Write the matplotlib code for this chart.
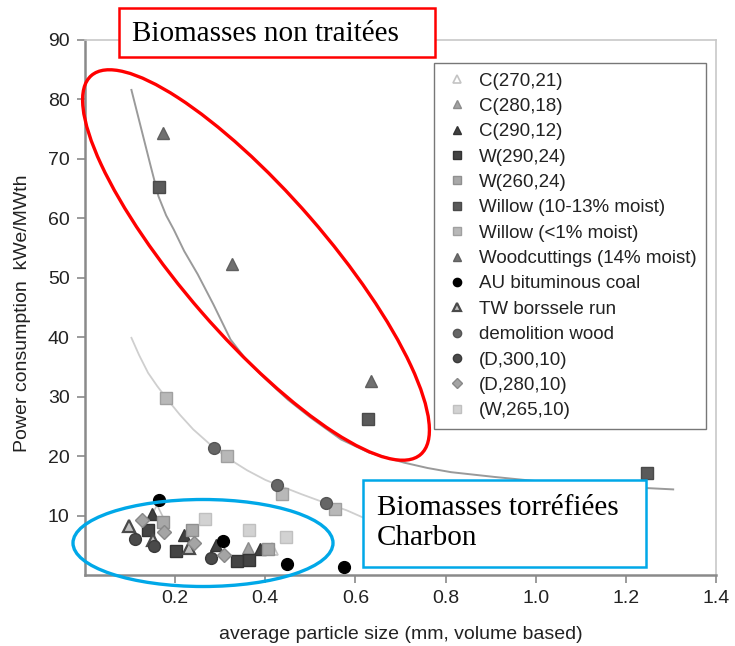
import numpy as np
import matplotlib
matplotlib.use("Agg")
import matplotlib.pyplot as plt
from matplotlib.patches import Ellipse, Rectangle

plt.rcParams['font.family'] = ['Liberation Sans', 'DejaVu Sans']

# ---- data ----
c270_x = [0.160, 0.414]
c270_y = [10.7, 4.4]
c280_x = [0.362]
c280_y = [4.6]
c290_x = [0.149, 0.220, 0.290, 0.388]
c290_y = [10.2, 6.8, 5.1, 4.3]
w290_x = [0.140, 0.201, 0.338, 0.364]
w290_y = [7.6, 4.1, 2.3, 2.6]
w260_x = [0.174, 0.238, 0.405]
w260_y = [9.0, 7.6, 4.3]
willow_wet_x = [0.164, 0.628, 1.246]
willow_wet_y = [65.3, 26.2, 17.1]
willow_dry_x = [0.180, 0.316, 0.436, 0.554]
willow_dry_y = [29.8, 20.0, 13.6, 11.1]
woodcut_x = [0.174, 0.327, 0.634]
woodcut_y = [74.4, 52.3, 32.7]
coal_x = [0.164, 0.306, 0.449, 0.575]
coal_y = [12.7, 5.8, 1.9, 1.4]
tw_x = [0.097, 0.151, 0.231]
tw_y = [8.2, 5.9, 4.6]
demol_x = [0.286, 0.426, 0.534]
demol_y = [21.4, 15.2, 12.1]
d300_x = [0.112, 0.153, 0.279]
d300_y = [6.0, 4.8, 2.9]
d280_x = [0.127, 0.175, 0.242, 0.308]
d280_y = [9.3, 7.2, 5.3, 3.4]
w265_x = [0.266, 0.364, 0.446]
w265_y = [9.5, 7.5, 6.4]

# trend curves
upper_x = [0.103, 0.115, 0.130, 0.145, 0.163, 0.180, 0.197, 0.220, 0.250, 0.285, 0.323,
           0.360, 0.400, 0.450, 0.500, 0.568, 0.630, 0.708, 0.760, 0.812, 0.860, 0.908,
           1.000, 1.100, 1.200, 1.305]
upper_y = [81.6, 78.0, 73.5, 69.0, 63.7, 60.5, 58.1, 54.5, 50.6, 45.5, 39.6,
           36.0, 33.0, 29.5, 26.5, 22.8, 20.6, 18.9, 18.0, 17.3, 16.9, 16.5,
           15.8, 15.2, 14.8, 14.4]
lower_x = [0.103, 0.120, 0.140, 0.160, 0.180, 0.210, 0.240, 0.286, 0.320, 0.360, 0.400,
           0.426, 0.480, 0.534, 0.580, 0.619]
lower_y = [39.9, 37.0, 34.0, 31.8, 29.8, 27.0, 24.5, 21.4, 19.5, 17.6, 16.0,
           15.2, 13.6, 12.1, 10.9, 9.6]

fig = plt.figure(figsize=(7.35, 6.46), dpi=100)
ax = fig.add_axes([85 / 735, 71 / 646, 631 / 735, 535 / 646])

ax.plot(upper_x, upper_y, color='#9a9a9a', lw=1.4, zorder=1)
ax.plot(lower_x, lower_y, color='#cfcfcf', lw=1.3, zorder=1)

ms = 8.5
series = [
    ('C(270,21)', c270_x, c270_y, dict(marker='^', mfc='white', mec='#c4c4c4', mew=1.2)),
    ('C(280,18)', c280_x, c280_y, dict(marker='^', mfc='#a2a2a2', mec='#8c8c8c')),
    ('C(290,12)', c290_x, c290_y, dict(marker='^', mfc='#404040', mec='#333333')),
    ('W(290,24)', w290_x, w290_y, dict(marker='s', mfc='#444444', mec='#333333')),
    ('W(260,24)', w260_x, w260_y, dict(marker='s', mfc='#a8a8a8', mec='#909090')),
    ('Willow (10-13% moist)', willow_wet_x, willow_wet_y, dict(marker='s', mfc='#5a5a5a', mec='#4a4a4a')),
    ('Willow (<1% moist)', willow_dry_x, willow_dry_y, dict(marker='s', mfc='#b8b8b8', mec='#a0a0a0')),
    ('Woodcuttings (14% moist)', woodcut_x, woodcut_y, dict(marker='^', mfc='#707070', mec='#606060')),
    ('AU bituminous coal', coal_x, coal_y, dict(marker='o', mfc='black', mec='black')),
    ('TW borssele run', tw_x, tw_y, dict(marker='^', mfc='#c0c0c0', mec='#4a4a4a', mew=1.6)),
    ('demolition wood', demol_x, demol_y, dict(marker='o', mfc='#666666', mec='#555555')),
    ('(D,300,10)', d300_x, d300_y, dict(marker='o', mfc='#4a4a4a', mec='#3a3a3a')),
    ('(D,280,10)', d280_x, d280_y, dict(marker='D', mfc='#a4a4a4', mec='#888888', ms=7)),
    ('(W,265,10)', w265_x, w265_y, dict(marker='s', mfc='#d2d2d2', mec='#c0c0c0')),
]
for label, xs, ys, st in series:
    kw = dict(ms=ms, mew=1.0)
    kw.update(st)
    ax.plot(xs, ys, ls='none', label=label, zorder=3, **kw)

ax.set_xlim(0, 1.4)
ax.set_ylim(0, 90)
ax.set_xticks([0.2, 0.4, 0.6, 0.8, 1.0, 1.2, 1.4])
ax.set_xticklabels(['0.2', '0.4', '0.6', '0.8', '1.0', '1.2', '1.4'])
ax.set_yticks([10, 20, 30, 40, 50, 60, 70, 80, 90])
for s in ['left', 'bottom']:
    ax.spines[s].set_color('#8a8a8a')
    ax.spines[s].set_linewidth(1.8)
for s in ['top', 'right']:
    ax.spines[s].set_color('#c8c8c8')
    ax.spines[s].set_linewidth(1.2)
ax.tick_params(direction='out', length=6, width=1.2, color='#8a8a8a',
               labelsize=14, labelcolor='#222222', pad=5)
ax.set_xlabel('average particle size (mm, volume based)', fontsize=14, color='#222222')
ax.set_ylabel('Power consumption  kWe/MWth', fontsize=14, color='#222222')
ax.xaxis.set_label_coords(0.5, -0.095)
ax.yaxis.set_label_coords(-0.085, 0.49)

leg = ax.legend(loc='upper left', bbox_to_anchor=(349 / 631, 1 - 23 / 535), fontsize=13.5,
                frameon=True, fancybox=False, handletextpad=0.4, labelspacing=0.44,
                handlelength=1.5, borderpad=0.5, borderaxespad=0, markerscale=0.7)
leg.get_frame().set_edgecolor('#555555')
leg.get_frame().set_linewidth(1.0)
for t in leg.get_texts():
    t.set_color('#222222')

# ---- annotation overlay in pixel space ----
ov = fig.add_axes([0, 0, 1, 1], facecolor='none')
ov.set_xlim(0, 735)
ov.set_ylim(646, 0)
ov.axis('off')

ov.add_patch(Ellipse((256, 265), 502, 144, angle=49, fill=False, ec='#ff0000', lw=2.4))
ov.add_patch(Ellipse((203, 543), 260, 87, angle=0, fill=False, ec='#00a8e8', lw=2.4))

ov.add_patch(Rectangle((119, 8), 316, 49, fc='white', ec='#ff0000', lw=1.8))
ov.text(132, 34, 'Biomasses non traitées', family='Liberation Serif', fontsize=21,
        va='center', ha='left', color='black')

ov.add_patch(Rectangle((363, 480), 283, 87, fc='white', ec='#00a8e8', lw=1.8))
ov.text(377, 523, 'Biomasses torréfiées\nCharbon', family='Liberation Serif', fontsize=21,
        va='center', ha='left', color='black', linespacing=1.2)

fig.savefig('out.png', dpi=100)
